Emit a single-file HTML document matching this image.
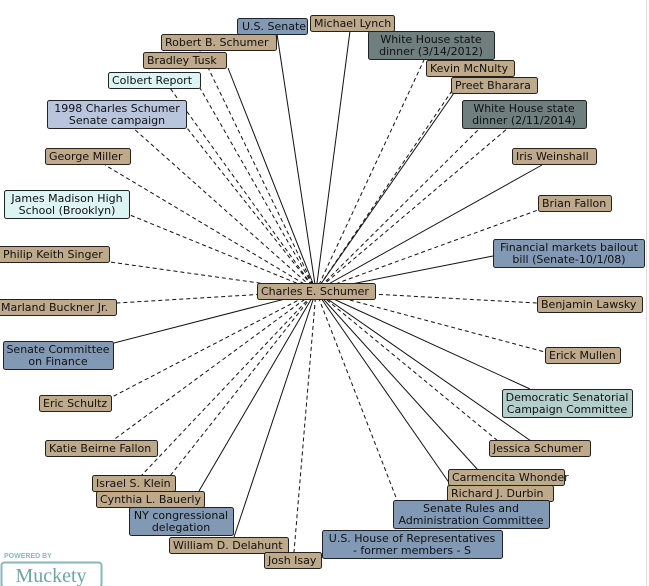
<!DOCTYPE html>
<html><head><meta charset="utf-8"><style>
html,body{margin:0;padding:0;background:#fff;}
svg{display:block;}
text{font-family:"DejaVu Sans","Liberation Sans",sans-serif;font-size:11px;fill:#111;}
.t{fill:#bfa98b}.b{fill:#8199b5}.lb{fill:#b9c5dc}.c{fill:#dcf5f4}.d{fill:#6e7f7d}.g{fill:#b3cfcb}
rect{stroke:#222;stroke-width:1}
line{stroke:#111;stroke-width:1}
.ds{stroke-dasharray:4,3}
</style></head><body>
<svg width="649" height="586" viewBox="0 0 649 586">
<line x1="646.5" y1="0" x2="646.5" y2="586" style="stroke:#ddd"/>
<g>
<line x1="316" y1="291" x2="277" y2="34"/>
<line x1="316" y1="291" x2="350" y2="31"/>
<line class="ds" x1="316" y1="291" x2="200" y2="51"/>
<line class="ds" x1="316" y1="291" x2="424" y2="60"/>
<line x1="316" y1="291" x2="228" y2="68"/>
<line class="ds" x1="316" y1="291" x2="462" y2="76"/>
<line class="ds" x1="316" y1="291" x2="170" y2="88"/>
<line class="ds" x1="316" y1="291" x2="200" y2="88"/>
<line x1="316" y1="291" x2="454" y2="93"/>
<line class="ds" x1="316" y1="291" x2="187" y2="128"/>
<line class="ds" x1="316" y1="291" x2="133" y2="128"/>
<line class="ds" x1="316" y1="291" x2="480" y2="128"/>
<line class="ds" x1="316" y1="291" x2="508" y2="128"/>
<line class="ds" x1="316" y1="291" x2="105" y2="165"/>
<line x1="316" y1="291" x2="542" y2="165"/>
<line class="ds" x1="316" y1="291" x2="130" y2="215"/>
<line class="ds" x1="316" y1="291" x2="538" y2="210"/>
<line class="ds" x1="316" y1="291" x2="110" y2="262"/>
<line x1="316" y1="291" x2="493" y2="256"/>
<line class="ds" x1="316" y1="291" x2="117" y2="303"/>
<line class="ds" x1="316" y1="291" x2="537" y2="303"/>
<line x1="316" y1="291" x2="114" y2="343"/>
<line class="ds" x1="316" y1="291" x2="545" y2="352"/>
<line class="ds" x1="316" y1="291" x2="112" y2="397"/>
<line x1="316" y1="291" x2="530" y2="389"/>
<line class="ds" x1="316" y1="291" x2="112" y2="441"/>
<line x1="316" y1="291" x2="531" y2="441"/>
<line class="ds" x1="316" y1="291" x2="498" y2="441"/>
<line x1="316" y1="291" x2="478" y2="470"/>
<line x1="316" y1="291" x2="450" y2="484"/>
<line class="ds" x1="316" y1="291" x2="141" y2="476"/>
<line class="ds" x1="316" y1="291" x2="170" y2="476"/>
<line x1="316" y1="291" x2="199" y2="491"/>
<line class="ds" x1="316" y1="291" x2="397" y2="500"/>
<line x1="316" y1="291" x2="234" y2="537"/>
<line class="ds" x1="316" y1="291" x2="294" y2="552"/>
</g>
<g>
<rect class="b" x="237.5" y="18.5" width="70" height="16" rx="2"/><text x="242" y="30">U.S. Senate</text>
<rect class="t" x="310.5" y="15.5" width="84" height="16" rx="2"/><text x="314" y="27">Michael Lynch</text>
<rect class="t" x="161.5" y="34.5" width="115" height="16" rx="2"/><text x="165" y="46">Robert B. Schumer</text>
<rect class="d" x="368.5" y="31.5" width="126" height="28" rx="2"/><text x="431" y="43" text-anchor="middle">White House state</text><text x="431" y="55" text-anchor="middle">dinner (3/14/2012)</text>
<rect class="t" x="143.5" y="52.5" width="83" height="16" rx="2"/><text x="147" y="64">Bradley Tusk</text>
<rect class="t" x="426.5" y="60.5" width="88" height="16" rx="2"/><text x="430" y="72">Kevin McNulty</text>
<rect class="c" x="108.5" y="72.5" width="92" height="16" rx="2"/><text x="112" y="84">Colbert Report</text>
<rect class="t" x="451.5" y="77.5" width="86" height="16" rx="2"/><text x="455" y="89">Preet Bharara</text>
<rect class="lb" x="47.5" y="100.5" width="139" height="28" rx="2"/><text x="117" y="112" text-anchor="middle">1998 Charles Schumer</text><text x="117" y="124" text-anchor="middle">Senate campaign</text>
<rect class="d" x="462.5" y="100.5" width="124" height="28" rx="2"/><text x="524" y="112" text-anchor="middle">White House state</text><text x="524" y="124" text-anchor="middle">dinner (2/11/2014)</text>
<rect class="t" x="45.5" y="148.5" width="85" height="16" rx="2"/><text x="49" y="160">George Miller</text>
<rect class="t" x="512.5" y="148.5" width="84" height="16" rx="2"/><text x="516" y="160">Iris Weinshall</text>
<rect class="c" x="4.5" y="190.5" width="125" height="28" rx="2"/><text x="67" y="202" text-anchor="middle">James Madison High</text><text x="67" y="214" text-anchor="middle">School (Brooklyn)</text>
<rect class="t" x="538.5" y="195.5" width="73" height="16" rx="2"/><text x="542" y="207">Brian Fallon</text>
<rect class="t" x="-2.5" y="246.5" width="112" height="16" rx="2"/><text x="3" y="258">Philip Keith Singer</text>
<rect class="b" x="493.5" y="239.5" width="151" height="28" rx="2"/><text x="569" y="251" text-anchor="middle">Financial markets bailout</text><text x="569" y="263" text-anchor="middle">bill (Senate-10/1/08)</text>
<rect class="t" x="257.5" y="283.5" width="118" height="16" rx="2"/><text x="261" y="295">Charles E. Schumer</text>
<rect class="t" x="-2.5" y="299.5" width="119" height="16" rx="2"/><text x="1" y="311">Marland Buckner Jr.</text>
<rect class="t" x="537.5" y="296.5" width="105" height="16" rx="2"/><text x="541" y="308">Benjamin Lawsky</text>
<rect class="b" x="3.5" y="341.5" width="110" height="28" rx="2"/><text x="58" y="353" text-anchor="middle">Senate Committee</text><text x="58" y="365" text-anchor="middle">on Finance</text>
<rect class="t" x="545.5" y="347.5" width="75" height="16" rx="2"/><text x="549" y="359">Erick Mullen</text>
<rect class="t" x="39.5" y="395.5" width="72" height="16" rx="2"/><text x="43" y="407">Eric Schultz</text>
<rect class="g" x="502.5" y="389.5" width="130" height="28" rx="2"/><text x="567" y="401" text-anchor="middle">Democratic Senatorial</text><text x="567" y="413" text-anchor="middle">Campaign Committee</text>
<rect class="t" x="45.5" y="440.5" width="112" height="16" rx="2"/><text x="49" y="452">Katie Beirne Fallon</text>
<rect class="t" x="489.5" y="440.5" width="101" height="16" rx="2"/><text x="493" y="452">Jessica Schumer</text>
<rect class="t" x="448.5" y="469.5" width="116" height="16" rx="2"/><text x="452" y="481">Carmencita Whonder</text>
<rect class="t" x="92.5" y="475.5" width="83" height="16" rx="2"/><text x="96" y="487">Israel S. Klein</text>
<rect class="t" x="447.5" y="485.5" width="106" height="16" rx="2"/><text x="451" y="497">Richard J. Durbin</text>
<rect class="t" x="96.5" y="491.5" width="108" height="16" rx="2"/><text x="100" y="503">Cynthia L. Bauerly</text>
<rect class="b" x="393.5" y="500.5" width="156" height="28" rx="2"/><text x="471" y="512" text-anchor="middle">Senate Rules and</text><text x="471" y="524" text-anchor="middle">Administration Committee</text>
<rect class="b" x="129.5" y="507.5" width="104" height="28" rx="2"/><text x="181" y="519" text-anchor="middle">NY congressional</text><text x="181" y="531" text-anchor="middle">delegation</text>
<rect class="b" x="322.5" y="530.5" width="180" height="28" rx="2"/><text x="412" y="542" text-anchor="middle">U.S. House of Representatives</text><text x="412" y="554" text-anchor="middle">- former members - S</text>
<rect class="t" x="169.5" y="537.5" width="119" height="16" rx="2"/><text x="173" y="549">William D. Delahunt</text>
<rect class="t" x="264.5" y="552.5" width="57" height="16" rx="2"/><text x="268" y="564">Josh Isay</text>
</g>
<text x="4" y="558" style="font-size:7px;font-weight:bold;fill:#8ab8b8;font-family:'Liberation Sans',sans-serif">POWERED BY</text>
<rect x="1.5" y="562.5" width="100" height="25" rx="3" style="fill:#fff;stroke:#8ab8b8;stroke-width:2"/>
<text x="51" y="582" text-anchor="middle" style="font-family:'Liberation Serif',serif;font-size:20px;fill:#6fa4a4">Muckety</text>
</svg>
</body></html>
